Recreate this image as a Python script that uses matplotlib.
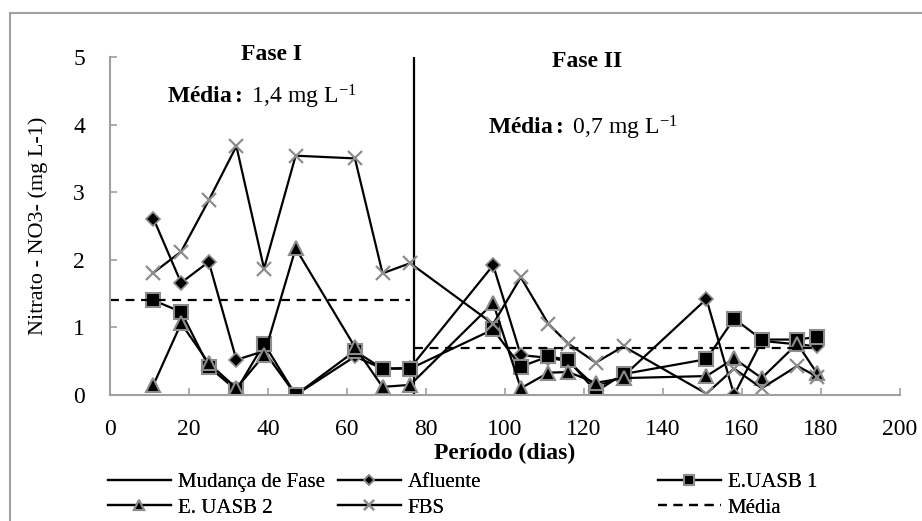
import matplotlib
matplotlib.use("Agg")
import matplotlib.pyplot as plt
from matplotlib.patches import Rectangle

plt.rcParams['font.family'] = ['Liberation Serif', 'DejaVu Serif']
plt.rcParams['mathtext.fontset'] = 'custom'
plt.rcParams['mathtext.rm'] = 'Liberation Serif'
plt.rcParams['mathtext.bf'] = 'Liberation Serif:bold'
plt.rcParams['mathtext.it'] = 'Liberation Serif:italic'

# Sampling days
dias = [11, 18, 25, 32, 39, 47, 62, 69, 76,
        97, 104, 111, 116, 123, 130, 151, 158, 165, 174, 179]

# Nitrate (mg L-1)
afluente = [2.61, 1.66, 1.97, 0.52, 0.65, 0.00, 0.57, 0.39, 0.40,
            1.92, 0.59, 0.55, 0.50, 0.12, 0.28, 1.42, 0.00, 0.80, 0.75, 0.72]
uasb1 = [1.40, 1.23, 0.42, 0.07, 0.76, 0.00, 0.65, 0.39, 0.39,
         0.97, 0.42, 0.57, 0.52, 0.05, 0.31, 0.53, 1.13, 0.82, 0.82, 0.86]
uasb2 = [0.15, 1.06, 0.47, 0.10, 0.59, 2.17, 0.71, 0.12, 0.15,
         1.36, 0.10, 0.33, 0.34, 0.18, 0.25, 0.28, 0.54, 0.25, 0.76, 0.32]
fbs = [1.81, 2.12, 2.88, 3.68, 1.87, 3.54, 3.50, 1.80, 1.95,
       1.05, 1.74, 1.05, 0.76, 0.48, 0.72, 0.02, 0.39, 0.10, 0.43, 0.27]

# Phase change and phase means
mudanca_x = [77, 77]
mudanca_y = [0, 5]
media1_x = [0, 76]
media1_y = [1.4, 1.4]
media2_x = [77, 179]
media2_y = [0.7, 0.7]

x_ticks = [0, 20, 40, 60, 80, 100, 120, 140, 160, 180, 200]
y_ticks = [0, 1, 2, 3, 4, 5]

FS = 17
LFS = 15
GRAY = '#8c8c8c'
W, H = 922, 521

fig = plt.figure(figsize=(W / 100, H / 100), dpi=100)
fig.patches.append(Rectangle((10 / W, -0.2), 1.2, (H - 13) / H + 0.2,
                             transform=fig.transFigure, fill=False,
                             edgecolor='#a0a0a0', linewidth=1.5))
ax = fig.add_axes([110 / W, (H - 395) / H, 790 / W, 338 / H])

lw = 1.6
h_mud, = ax.plot(mudanca_x, mudanca_y, color='black', lw=lw)
h_afl, = ax.plot(dias, afluente, color='black', lw=lw, marker='D', ms=7.5,
                 mfc='black', mec=GRAY, mew=1.2)
h_u1, = ax.plot(dias, uasb1, color='black', lw=lw, marker='s', ms=9.5,
                mfc='black', mec=GRAY, mew=1.5)
h_u2, = ax.plot(dias, uasb2, color='black', lw=lw, marker='^', ms=10,
                mfc='black', mec=GRAY, mew=1.5)
h_fbs, = ax.plot(dias, fbs, color='black', lw=lw, marker='x', ms=10,
                 mec=GRAY, mew=1.6)
h_med, = ax.plot(media1_x, media1_y, color='black', lw=lw, ls=(0, (4, 3)))
ax.plot(media2_x, media2_y, color='black', lw=lw, ls=(0, (4, 3)))

ax.set_xlim(0, 200)
ax.set_ylim(0, 5)
ax.set_xticks(x_ticks)
ax.set_yticks(y_ticks)
ax.tick_params(direction='in', length=5, width=1.2, color='#a0a0a0',
               labelsize=FS)
ax.tick_params(axis='x', pad=17)
ax.tick_params(axis='y', pad=18)
for s in ['top', 'right']:
    ax.spines[s].set_visible(False)
for s in ['left', 'bottom']:
    ax.spines[s].set_color('#a0a0a0')
    ax.spines[s].set_linewidth(1.5)
ax.patch.set_alpha(0)

ax.set_ylabel('Nitrato - NO3- (mg L-1)', fontsize=16)
ax.yaxis.set_label_coords((48 - 110) / 790, 0.5)
ax.set_xlabel('Período (dias)', fontsize=FS, fontweight='bold')
ax.xaxis.set_label_coords((505 - 110) / 790, (395 - 443) / 338)

ax.text(41.0, 5.04, 'Fase I', fontsize=FS, fontweight='bold',
        ha='center', va='center')
ax.text(38.5, 4.41, r'$\mathbf{Média{:}}$ 1,4 mg L$^{\mathrm{{-}1}}$',
        fontsize=FS, ha='center', va='center')
ax.text(120.8, 4.94, 'Fase II', fontsize=FS, fontweight='bold',
        ha='center', va='center')
ax.text(95.7, 3.95, r'$\mathbf{Média{:}}$ 0,7 mg L$^{\mathrm{{-}1}}$',
        fontsize=FS, ha='left', va='center')

# Legend entries placed individually below the plot
entries = [
    (h_mud, 'Mudança de Fase', 108, 482),
    (h_afl, 'Afluente', 338, 482),
    (h_u1, 'E.UASB 1', 658, 482),
    (h_u2, 'E. UASB 2', 108, 508),
    (h_fbs, 'FBS', 338, 508),
    (h_med, 'Média', 658, 508),
]
for h, label, px, py in entries:
    leg = fig.legend([h], [label], loc='center left',
                     bbox_to_anchor=(px / W, 1 - py / H),
                     frameon=False, fontsize=LFS, handlelength=3.0,
                     handletextpad=0.35, borderpad=0, borderaxespad=0,
                     markerscale=0.7)
    fig.add_artist(leg)

fig.savefig('out.png', dpi=100)
